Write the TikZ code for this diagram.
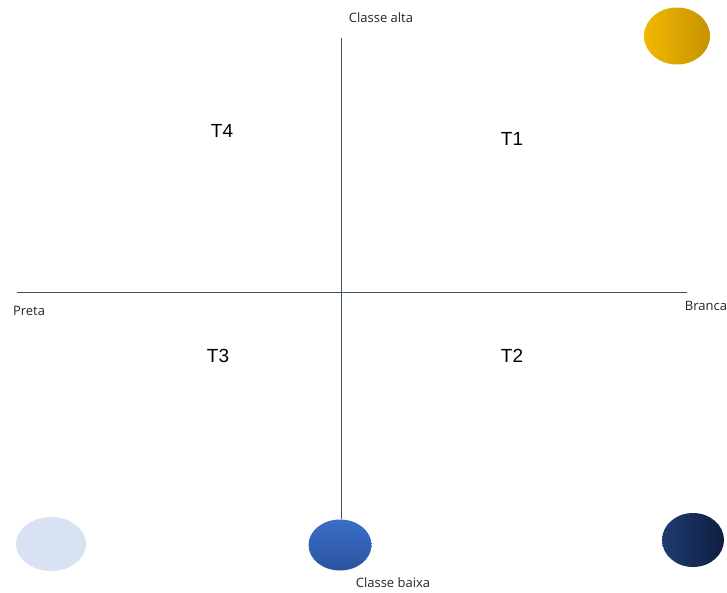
\documentclass[tikz,border=0pt]{standalone}
\usepackage{fontspec}
\setmainfont{Liberation Sans}
\newfontfamily\smallfont{Open Sans}
\usetikzlibrary{shapes.geometric}
\definecolor{axiscol}{HTML}{3D5470}
\definecolor{yellowA}{HTML}{F0B800}
\definecolor{yellowB}{HTML}{C89200}
\definecolor{lightblue}{HTML}{D9E2F3}
\definecolor{blueA}{HTML}{3A6EC8}
\definecolor{blueB}{HTML}{2A54A0}
\definecolor{darkA}{HTML}{1F3B70}
\definecolor{darkB}{HTML}{0E1E40}
\tikzset{
  axis/.style={draw=axiscol, line width=0.9pt},
  blob/.style={ellipse, inner sep=0pt},
  axlabel/.style={font=\smallfont\fontsize{13}{15}\selectfont, text=black!85, inner sep=0pt},
  tlabel/.style={font=\fontsize{19}{22}\selectfont, inner sep=0pt}
}
\begin{document}
\begin{tikzpicture}[x=1pt,y=-1pt]
\useasboundingbox (0,0) rectangle (727,592);
% ellipses
\node[blob, minimum width=66pt, minimum height=57pt, left color=yellowA, right color=yellowB] (yel) at (677,36) {};
\node[blob, minimum width=70pt, minimum height=54pt, fill=lightblue] (lb) at (51,544) {};
\node[blob, minimum width=63pt, minimum height=51pt, top color=blueA, bottom color=blueB] (bl) at (340,545) {};
\node[blob, minimum width=62pt, minimum height=54pt, left color=darkA, right color=darkB] (dk) at (693,540) {};
% axes
\coordinate (vtop) at (341,38);
\coordinate (hl) at (17,292);
\coordinate (hr) at (687,292);
\draw[axis] (vtop) -- (bl.north -| vtop);
\draw[axis] (hl) -- (hr);
% labels
\node[axlabel] (calta) at (381,18) {Classe alta};
\node[axlabel] (cbaixa) at (393,583) {Classe baixa};
\node[axlabel] (preta) at (29,311) {Preta};
\node[axlabel] (branca) at (706,306) {Branca};
\node[tlabel] (t4) at (222,131) {T4};
\node[tlabel] (t1) at (512,139) {T1};
\node[tlabel] (t3) at (218,356) {T3};
\node[tlabel] (t2) at (512,356) {T2};
\end{tikzpicture}
\end{document}
